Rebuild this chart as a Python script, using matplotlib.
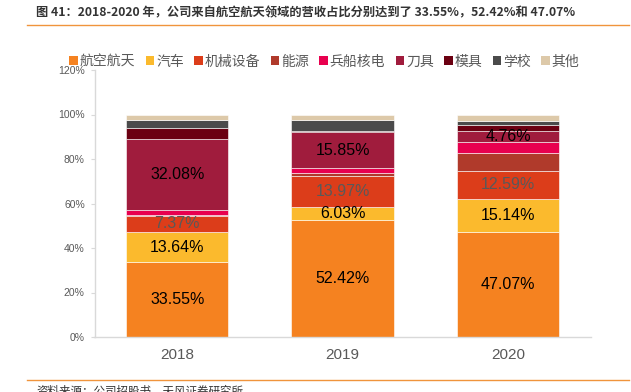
import matplotlib
matplotlib.use("Agg")
import matplotlib.pyplot as plt
import numpy as np
from matplotlib.lines import Line2D
from matplotlib.patches import Patch

plt.rcParams['font.family'] = ['Liberation Sans', 'Noto Sans CJK SC', 'DejaVu Sans']

years = ["2018", "2019", "2020"]
series_names = ["航空航天", "汽车", "机械设备", "能源", "兵船核电", "刀具", "模具", "学校", "其他"]
aero = [33.55, 52.42, 47.07]
auto = [13.64, 6.03, 15.14]
machinery = [7.37, 13.97, 12.59]
energy = [0.3, 1.4, 7.8]
ship_nuclear = [2.2, 2.25, 5.1]
tools = [32.08, 15.85, 4.76]
molds = [4.7, 0.6, 2.9]
school = [3.9, 4.8, 1.9]
other = [2.26, 2.68, 2.74]
series_values = [aero, auto, machinery, energy, ship_nuclear, tools, molds, school, other]
colors = ["#F58220", "#FBBA2D", "#DC3D1A", "#B03A2B", "#E8004F", "#A01C3D", "#6B0011", "#4B4B4B", "#DDC9A9"]
labelled = {0: "#000000", 1: "#000000", 2: "#595959", 5: "#000000"}
yticks = [0, 20, 40, 60, 80, 100, 120]
ytick_labels = ["0%", "20%", "40%", "60%", "80%", "100%", "120%"]

W, H = 631, 392
fig = plt.figure(figsize=(W / 100, H / 100), dpi=100)
ax = fig.add_axes([94.5 / W, (H - 337) / H, (590.75 - 94.5) / W, (337 - 70) / H])

x = np.arange(len(years))
bottom = np.zeros(len(years))
for i, (name, vals, c) in enumerate(zip(series_names, series_values, colors)):
    vals = np.array(vals)
    ax.bar(x, vals, 0.62, bottom=bottom, color=c, edgecolor="#ffffff", linewidth=0.4, label=name)
    if i in labelled:
        for xi, b, v in zip(x, bottom, vals):
            ax.text(xi, b + v / 2, f"{v:.2f}%", ha="center", va="center",
                    fontsize=11.5, color=labelled[i])
    bottom += vals

ax.set_xlim(-0.5, 2.5)
ax.set_ylim(0, 120)
ax.set_yticks(yticks)
ax.set_yticklabels(ytick_labels, fontsize=7.5, color="#595959")
ax.set_xticks(x)
ax.set_xticklabels(years, fontsize=11, color="#595959")
ax.tick_params(axis="x", length=0, pad=8)
ax.tick_params(axis="y", length=3, color="#D9D9D9", pad=4)
for s in ["top", "right"]:
    ax.spines[s].set_visible(False)
for s in ["left", "bottom"]:
    ax.spines[s].set_color("#D9D9D9")
    ax.spines[s].set_linewidth(1.0)

handles = [Patch(facecolor=c, edgecolor="none") for c in colors]
leg = fig.legend(handles, series_names, loc="center", bbox_to_anchor=(324.5 / W, 1 - 61.7 / H),
                 ncol=9, frameon=False, handlelength=0.6, handleheight=0.6,
                 handletextpad=0.15, columnspacing=0.75, borderaxespad=0,
                 prop={"family": ["Noto Sans CJK SC"], "size": 10})
for t in leg.get_texts():
    t.set_color("#595959")

fig.text(36 / W, 1 - 13 / H, "图 41：2018-2020 年，公司来自航空航天领域的营收占比分别达到了 33.55%，52.42%和 47.07%",
         fontsize=8.8, fontweight="bold", color="#333333", ha="left", va="center",
         family=["Noto Sans CJK SC"])
fig.add_artist(Line2D([27 / W, 629 / W], [1 - 25 / H, 1 - 25 / H], color="#F0943C", linewidth=1.0))
fig.add_artist(Line2D([27 / W, 629 / W], [1 - 379.5 / H, 1 - 379.5 / H], color="#F0943C", linewidth=1.0))
fig.text(36 / W, 1 - 385 / H, "资料来源：公司招股书，天风证券研究所", fontsize=8.3, color="#333333",
         ha="left", va="top", family=["Noto Sans CJK SC"])

fig.savefig("out.png", dpi=100)
